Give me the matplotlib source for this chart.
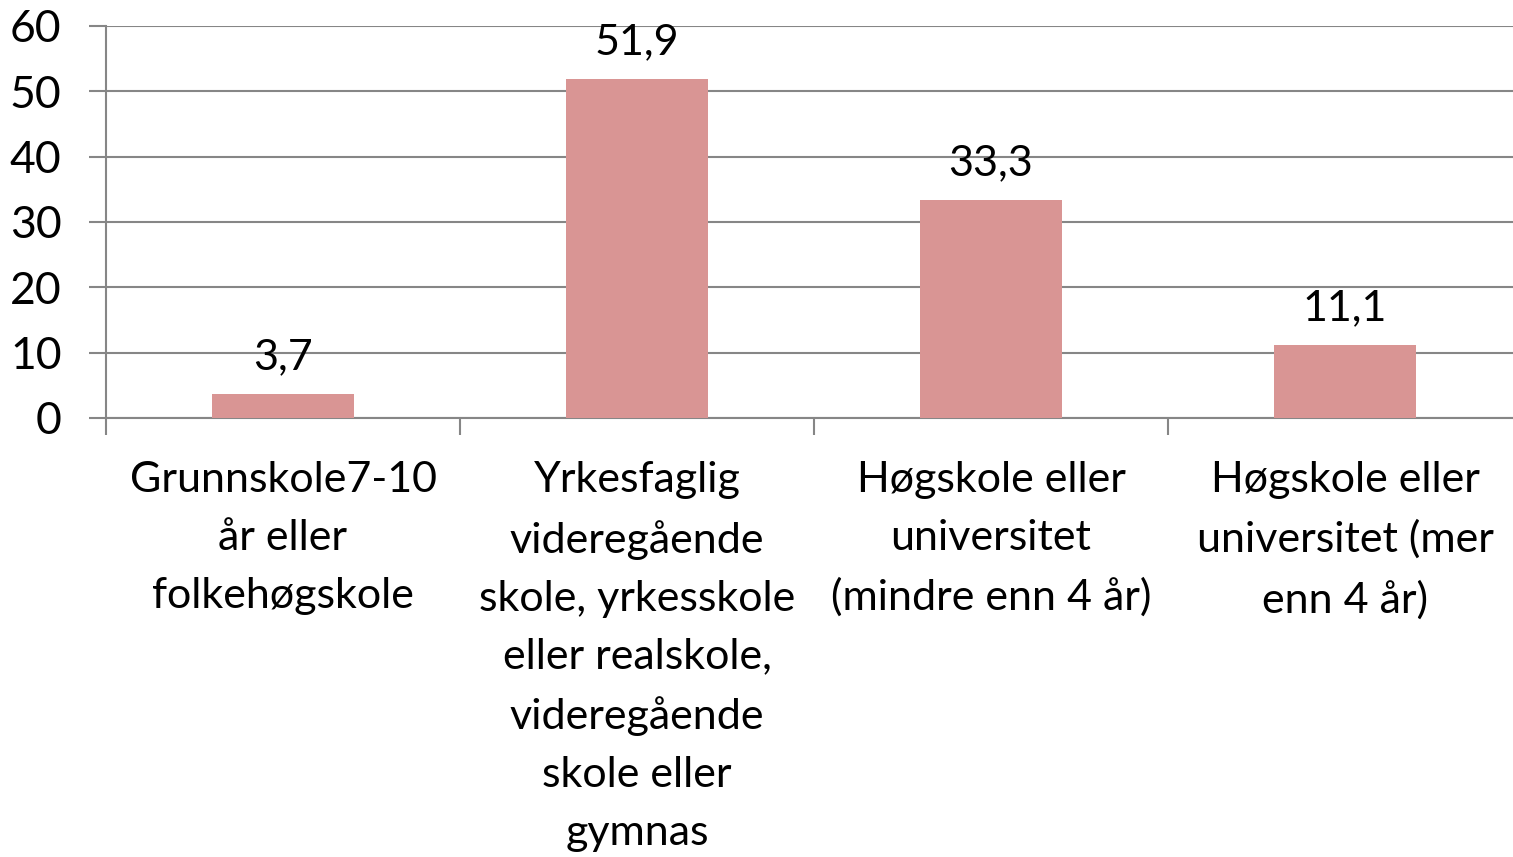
import matplotlib.pyplot as plt
from matplotlib.ticker import FixedLocator

plt.rcParams['font.family'] = ['Lato', 'DejaVu Sans']

categories = [
    "Grunnskole7-10\når eller\nfolkehøgskole",
    "Yrkesfaglig\nvideregående\nskole, yrkesskole\neller realskole,\nvideregående\nskole eller\ngymnas",
    "Høgskole eller\nuniversitet\n(mindre enn 4 år)",
    "Høgskole eller\nuniversitet (mer\nenn 4 år)",
]
values = [3.7, 51.9, 33.3, 11.1]
value_labels = ["3,7", "51,9", "33,3", "11,1"]

W, H = 1513, 857
fig = plt.figure(figsize=(W / 100, H / 100), dpi=100)
# plot area runs a little past the right edge, as in the original
ax = fig.add_axes([106 / W, (H - 418) / H, (1522 - 106) / W, (418 - 26) / H])

grid_col = "#868686"
x = list(range(len(values)))
bars = ax.bar(x, values, width=0.4, color="#D99594", zorder=3)

for xi, v, lab in zip(x, values, value_labels):
    ax.annotate(lab, (xi, v), xytext=(0, 13), textcoords="offset points",
                ha="center", va="bottom", fontsize=31, color="black")

ax.set_xlim(-0.5, 3.5)
ax.set_ylim(0, 60)
ax.set_yticks(range(0, 61, 10))
ax.yaxis.grid(True, color=grid_col, linewidth=1.5, zorder=0)
ax.tick_params(axis="y", length=12, width=1.5, color=grid_col, labelsize=32, pad=20)

ax.set_xticks(x)
ax.set_xticklabels(categories, fontsize=31, linespacing=1.64, va="top")
ax.tick_params(axis="x", which="major", length=0, pad=31)
ax.xaxis.set_minor_locator(FixedLocator([-0.5, 0.5, 1.5, 2.5, 3.5]))
ax.tick_params(axis="x", which="minor", length=12, width=1.5, color=grid_col)

for side in ["top", "right"]:
    ax.spines[side].set_visible(False)
ax.spines["left"].set_color(grid_col)
ax.spines["left"].set_linewidth(1.5)
ax.spines["bottom"].set_color(grid_col)
ax.spines["bottom"].set_linewidth(1.5)

fig.savefig("out.png", dpi=100)
